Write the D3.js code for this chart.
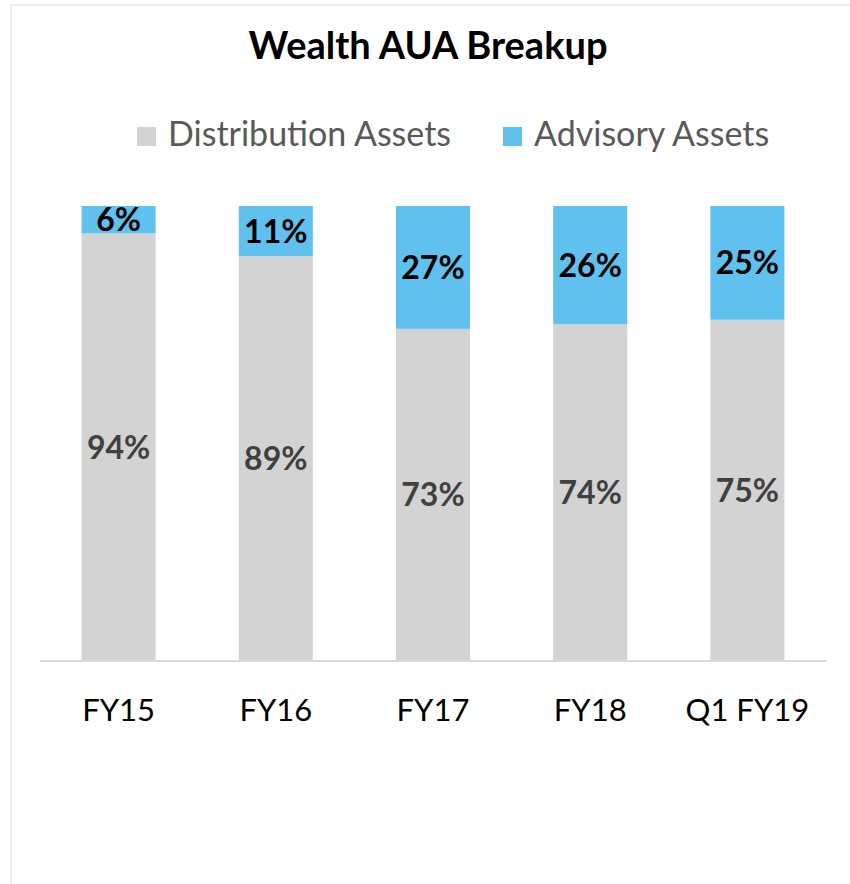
<!DOCTYPE html>
<html>
<head>
<meta charset="utf-8">
<script src="https://cdn.jsdelivr.net/npm/d3@7"></script>
<style>
  html, body { margin: 0; padding: 0; background: #ffffff; }
  svg { display: block; }
</style>
</head>
<body>
<svg id="chart" width="850" height="884"></svg>
<script>
const categories = ["FY15", "FY16", "FY17", "FY18", "Q1 FY19"];
const distributionAssets = [94, 89, 73, 74, 75];
const advisoryAssets = [6, 11, 27, 26, 25];
const seriesNames = ["Distribution Assets", "Advisory Assets"];
const seriesColors = ["#d3d3d3", "#61c1ee"];
const labelColors = ["#404040", "#000000"];

const FONT = "Lato, 'Open Sans', sans-serif";
const svg = d3.select("#chart");

// frame
svg.append("rect").attr("x", 0).attr("y", 0).attr("width", 850).attr("height", 884).attr("fill", "#ffffff");
svg.append("rect").attr("x", 11).attr("y", 5).attr("width", 860).attr("height", 900)
  .attr("fill", "#ffffff").attr("stroke", "#eeeeee").attr("stroke-width", 2);

const table = categories.map((c, i) => ({
  cat: c,
  "Distribution Assets": distributionAssets[i],
  "Advisory Assets": advisoryAssets[i]
}));

const x = d3.scaleBand().domain(categories).range([40, 826]).paddingInner(0.529).paddingOuter(0.2645);
const y = d3.scaleLinear().domain([0, 100]).range([661, 206]);

const stack = d3.stack().keys(seriesNames)(table);

const layers = svg.append("g").selectAll("g").data(stack).join("g")
  .attr("fill", (d, i) => seriesColors[i]);

layers.selectAll("rect").data(d => d).join("rect")
  .attr("x", d => x(d.data.cat))
  .attr("y", d => y(d[1]))
  .attr("width", x.bandwidth())
  .attr("height", d => y(d[0]) - y(d[1]));

// value labels
stack.forEach((layer, li) => {
  svg.append("g").selectAll("text").data(layer).join("text")
    .attr("x", d => x(d.data.cat) + x.bandwidth() / 2)
    .attr("y", d => (y(d[0]) + y(d[1])) / 2)
    .attr("dy", "0.36em")
    .attr("text-anchor", "middle")
    .attr("font-family", FONT)
    .attr("font-weight", "bold")
    .attr("font-size", 32)
    .attr("fill", labelColors[li])
    .text(d => (d[1] - d[0]) + "%");
});

// x axis
const xAxis = svg.append("g").attr("transform", "translate(0,661)")
  .call(d3.axisBottom(x).tickSize(0).tickPadding(0));
xAxis.select(".domain").attr("stroke", "#d9d9d9").attr("stroke-width", 2)
  .attr("d", "M40,0H826");
xAxis.selectAll(".tick text")
  .attr("font-family", FONT)
  .attr("font-size", 31)
  .attr("fill", "#000000")
  .attr("dy", null)
  .attr("y", 60);

// title
svg.append("text").attr("x", 428).attr("y", 59)
  .attr("text-anchor", "middle")
  .attr("font-family", FONT).attr("font-weight", "bold").attr("font-size", 38)
  .attr("fill", "#000000")
  .text("Wealth AUA Breakup");

// legend
const legendX = [137, 503];
const lg = svg.append("g").selectAll("g").data(seriesNames).join("g")
  .attr("transform", (d, i) => `translate(${legendX[i]},0)`);
lg.append("rect").attr("x", 0).attr("y", 127).attr("width", 19).attr("height", 19)
  .attr("fill", (d, i) => seriesColors[i]);
lg.append("text").attr("x", 31).attr("y", 146)
  .attr("font-family", FONT).attr("font-size", 34).attr("fill", "#595959")
  .text(d => d);
</script>
</body>
</html>
